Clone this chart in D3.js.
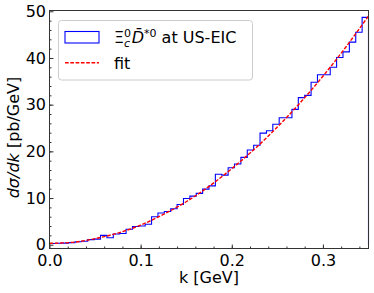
<!DOCTYPE html>
<html>
<head>
<meta charset="utf-8">
<script src="https://cdn.jsdelivr.net/npm/d3@7"></script>
<style>
body { margin: 0; background: #fff; }
text { font-family: "DejaVu Sans", sans-serif; fill: #000; }
</style>
</head>
<body>
<script>
// histogram bin edges, k [GeV]
var kEdges = [0, 0.007, 0.014, 0.021, 0.028, 0.035, 0.042, 0.049, 0.056, 0.063,
    0.070, 0.077, 0.084, 0.091, 0.098, 0.105, 0.112, 0.119, 0.126, 0.133,
    0.140, 0.147, 0.154, 0.161, 0.168, 0.175, 0.182, 0.189, 0.196, 0.203,
    0.210, 0.217, 0.224, 0.231, 0.238, 0.245, 0.252, 0.259, 0.266, 0.273,
    0.280, 0.287, 0.294, 0.301, 0.308, 0.315, 0.322, 0.329, 0.336, 0.343, 0.350];
// dsigma/dk per bin [pb/GeV]
var dsigma = [0.25, 0.3, 0.35, 0.45, 0.65, 0.75, 1.1, 1.2, 2.0, 1.5,
    2.3, 2.4, 3.3, 3.9, 4.0, 4.4, 6.0, 6.8, 7.1, 7.7,
    8.6, 9.9, 10.4, 11.0, 11.9, 12.6, 15.1, 14.9, 16.5, 17.3,
    18.7, 20.3, 21.3, 23.9, 24.4, 25.8, 27.2, 27.2, 29.0, 31.5,
    32.0, 34.8, 36.4, 36.4, 38.0, 40.1, 41.3, 43.4, 45.5, 48.7];
// fit curve
var fitK = [0, 0.025, 0.05, 0.075, 0.1, 0.125, 0.15, 0.175, 0.2, 0.225, 0.25, 0.275, 0.3, 0.325, 0.35];
var fitY = [0.3, 0.5, 1.3, 2.5, 4.2, 6.5, 9.2, 12.5, 16.3, 20.5, 25.2, 30.4, 36.1, 42.3, 49.0];

var xTicks = [0, 0.1, 0.2, 0.3];
var yTicks = [0, 10, 20, 30, 40, 50];

var margin = { top: 10.5, right: 5.5, bottom: 44.5, left: 49.5 }
    , width = 374 - margin.left - margin.right
    , height = 293 - margin.top - margin.bottom;

var xScale = d3.scaleLinear().domain([0, 0.35]).range([0, width]);
var yScale = d3.scaleLinear().domain([-0.81, 50.17]).range([height, 0]);

var svg = d3.select("body").append("svg")
    .attr("width", 374)
    .attr("height", 293);

var g = svg.append("g")
    .attr("transform", "translate(" + margin.left + "," + margin.top + ")");

// minor ticks (inside)
g.append("g")
    .attr("transform", "translate(0," + height + ")")
    .call(d3.axisBottom(xScale).tickValues(d3.range(0.02, 0.35, 0.02)).tickSizeInner(-2).tickSizeOuter(0).tickFormat(""))
    .call(function (a) { a.select(".domain").remove(); a.selectAll("line").attr("stroke", "#333"); });
g.append("g")
    .call(d3.axisLeft(yScale).tickValues(d3.range(2, 50, 2)).tickSizeInner(-2).tickSizeOuter(0).tickFormat(""))
    .call(function (a) { a.select(".domain").remove(); a.selectAll("line").attr("stroke", "#333"); });

// major ticks
g.append("g")
    .attr("class", "x axis")
    .attr("transform", "translate(0," + height + ")")
    .call(d3.axisBottom(xScale).tickValues(xTicks).tickFormat(d3.format(".1f"))
        .tickSizeInner(-4).tickSizeOuter(0).tickPadding(6.5))
    .call(function (a) {
        a.select(".domain").remove();
        a.selectAll("line").attr("stroke", "#333");
        a.selectAll("text").attr("font-size", 16).attr("font-family", "DejaVu Sans").attr("fill", "#000");
    });

g.append("g")
    .attr("class", "y axis")
    .call(d3.axisLeft(yScale).tickValues(yTicks).tickFormat(d3.format("d"))
        .tickSizeInner(-4).tickSizeOuter(0).tickPadding(3.5))
    .call(function (a) {
        a.select(".domain").remove();
        a.selectAll("line").attr("stroke", "#333");
        a.selectAll("text").attr("font-size", 16).attr("font-family", "DejaVu Sans").attr("fill", "#000");
    });

// histogram as a step outline
var steps = [[0, 0]];
dsigma.forEach(function (v, i) {
    steps.push([kEdges[i], v]);
    steps.push([kEdges[i + 1], v]);
});
steps.push([kEdges[kEdges.length - 1], 0]);

var stepLine = d3.line()
    .x(function (d) { return xScale(d[0]); })
    .y(function (d) { return yScale(d[1]); });

g.append("path")
    .datum(steps)
    .attr("fill", "none")
    .attr("stroke", "#0000ff")
    .attr("stroke-width", 1.1)
    .attr("d", stepLine);

// fit
var fitLine = d3.line()
    .x(function (d, i) { return xScale(fitK[i]); })
    .y(function (d) { return yScale(d); })
    .curve(d3.curveMonotoneX);

g.append("path")
    .datum(fitY)
    .attr("fill", "none")
    .attr("stroke", "#ff0000")
    .attr("stroke-width", 1.4)
    .attr("stroke-dasharray", "3.7,1.6")
    .attr("d", fitLine);

// frame
g.append("rect")
    .attr("width", width)
    .attr("height", height)
    .attr("fill", "none")
    .attr("stroke", "#333")
    .attr("stroke-width", 1);

// axis labels
svg.append("text")
    .attr("x", margin.left + width / 2)
    .attr("y", 283)
    .attr("font-size", 16)
    .style("text-anchor", "middle")
    .text("k [GeV]");

var yl = svg.append("text")
    .attr("transform", "translate(19,137.5) rotate(-90)")
    .attr("font-size", 16)
    .style("text-anchor", "middle");
yl.append("tspan").attr("font-style", "italic").text("dσ/dk");
yl.append("tspan").text(" [pb/GeV]");

// legend
var lg = svg.append("g").attr("transform", "translate(58.5,20.5)");
lg.append("rect")
    .attr("width", 194)
    .attr("height", 59.5)
    .attr("rx", 3)
    .attr("fill", "#fff")
    .attr("fill-opacity", 0.8)
    .attr("stroke", "#cccccc");
lg.append("rect")
    .attr("x", 6.5).attr("y", 11)
    .attr("width", 34).attr("height", 11.5)
    .attr("fill", "none")
    .attr("stroke", "#0000ff")
    .attr("stroke-width", 1.1);
lg.append("line")
    .attr("x1", 6.5).attr("x2", 40.5)
    .attr("y1", 42.2).attr("y2", 42.2)
    .attr("stroke", "#ff0000")
    .attr("stroke-width", 1.4)
    .attr("stroke-dasharray", "3.7,1.6");

var lt = lg.append("text")
    .attr("x", 55.5)
    .attr("y", 22.8)
    .attr("font-size", 16);
lt.append("tspan").text("Ξ");
lt.append("tspan").attr("font-size", 11).attr("dy", -6.5).text("0");
lt.append("tspan").attr("font-size", 11).attr("font-style", "italic").attr("dx", -7).attr("dy", 10).text("c");
lt.append("tspan").attr("font-style", "italic").attr("dx", 1.5).attr("dy", -3.5).text("D\u0304");
lt.append("tspan").attr("font-size", 11).attr("dy", -6.5).text("*0");
lt.append("tspan").attr("dy", 6.5).text(" at US-EIC");

lg.append("text")
    .attr("x", 55.5)
    .attr("y", 48.8)
    .attr("font-size", 16)
    .text("fit");
</script>
</body>
</html>
